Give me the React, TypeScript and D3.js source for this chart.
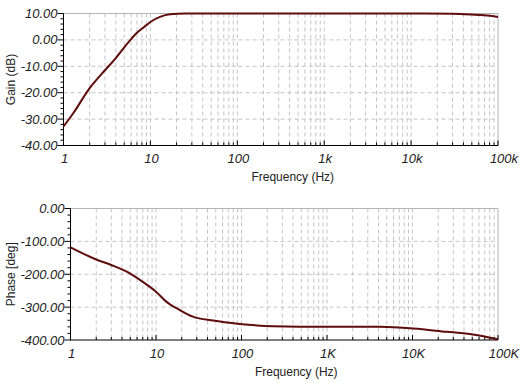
import React from 'react';
import * as d3 from 'd3';

// gain plot
const gainFreq = [1, 1.3, 2, 3, 4, 5, 6, 7, 8, 9, 10, 12.9, 16.8, 25, 50, 100, 1000, 10000, 30000, 50000, 70000, 100000];
const gainDb = [-32.8, -27.7, -18.3, -11.5, -6.9, -2.8, 0.3, 2.7, 4.3, 5.6, 6.8, 8.7, 9.7, 10, 10, 10, 10, 10, 9.9, 9.6, 9.3, 8.7];
const gainTicks = [10, 0, -10, -20, -30, -40];

// phase plot
const phaseFreq = [1, 2, 3, 5, 7, 10, 13.3, 19, 27, 46.5, 95, 234, 1000, 4140, 10200, 25000, 51000, 100000];
const phaseDeg = [-118, -155, -172, -198, -223, -253, -284, -309, -329, -341, -351, -358, -360, -360, -365, -375, -383, -398];
const phaseTicks = [0, -100, -200, -300, -400];

const decades = [1, 10, 100, 1000, 10000, 100000];
const topFreqLabels = ['1', '10', '100', '1k', '10k', '100k'];
const bottomFreqLabels = ['1', '10', '100', '1K', '10K', '100K'];

const font = 'Arial, "Liberation Sans", sans-serif';
const curveColor = '#5e0c0c';
const gridColor = '#c4c4c4';

type PlotProps = {
  left: number; right: number; top: number; bottom: number;
  freq: number[]; vals: number[]; yTicks: number[]; yMinorStep: number;
  xLabels: string[]; yTitle: string; tickBase: number; titleBase: number;
};

const Plot = ({ left, right, top, bottom, freq, vals, yTicks, yMinorStep, xLabels, yTitle, tickBase, titleBase }: PlotProps) => {
  const x = d3.scaleLog().domain([1, 100000]).range([left, right]);
  const yMax = d3.max(yTicks)!;
  const yMin = d3.min(yTicks)!;
  const y = d3.scaleLinear().domain([yMin, yMax]).range([bottom, top]);

  const minorX: number[] = [];
  decades.slice(0, -1).forEach(d => {
    for (let k = 2; k <= 9; k++) minorX.push(d * k);
  });
  const minorY = d3.range(yMin, yMax + 0.001, yMinorStep).filter(v => !yTicks.includes(v));

  const line = d3.line<number>()
    .x((_, i) => x(freq[i]))
    .y(d => y(d))
    .curve(d3.curveMonotoneX);

  return (
    <g>
      {/* grid */}
      {[...decades.slice(1, -1), ...minorX].map((f, i) => (
        <line key={'gx' + i} x1={x(f)} x2={x(f)} y1={top} y2={bottom} stroke={gridColor} strokeDasharray="4,3" />
      ))}
      {yTicks.slice(1, -1).map((v, i) => (
        <line key={'gy' + i} x1={left} x2={right} y1={y(v)} y2={y(v)} stroke={gridColor} strokeDasharray="4,3" />
      ))}
      {/* frame */}
      <line x1={left} x2={right} y1={top} y2={top} stroke="#b4b4b4" />
      <line x1={right} x2={right} y1={top} y2={bottom} stroke="#b4b4b4" />
      <line x1={left} x2={left} y1={top} y2={bottom + 0.5} stroke="#000" />
      <line x1={left} x2={right} y1={bottom} y2={bottom} stroke="#000" />
      {/* y ticks */}
      {yTicks.map((v, i) => (
        <g key={'yt' + i}>
          <line x1={left - 6} x2={left} y1={y(v)} y2={y(v)} stroke="#000" />
          <text x={left - 6} y={y(v) + 4.5} textAnchor="end" fontSize={13} fontStyle="italic" fill="#222" fontFamily={font}>
            {v.toFixed(2)}
          </text>
        </g>
      ))}
      {minorY.map((v, i) => (
        <line key={'ym' + i} x1={left - 3} x2={left} y1={y(v)} y2={y(v)} stroke="#000" />
      ))}
      {/* x ticks */}
      {decades.map((f, i) => (
        <g key={'xt' + i}>
          <line x1={x(f)} x2={x(f)} y1={bottom} y2={bottom - 5} stroke="#000" />
          <text x={x(f) + (i === decades.length - 1 ? 6 : 1)} y={tickBase} textAnchor="middle" fontSize={13} fontStyle="italic" fill="#222" fontFamily={font}>
            {xLabels[i]}
          </text>
        </g>
      ))}
      {minorX.map((f, i) => (
        <line key={'xm' + i} x1={x(f)} x2={x(f)} y1={bottom} y2={bottom - 3} stroke="#000" />
      ))}
      {/* curve */}
      <path d={line(vals) || ''} fill="none" stroke={curveColor} strokeWidth={2} />
      {/* titles */}
      <text x={(left + right) / 2 + 12} y={titleBase} textAnchor="middle" fontSize={12} fill="#222" fontFamily={font}>
        Frequency (Hz)
      </text>
      <text transform={`translate(15,${(top + bottom) / 2}) rotate(-90)`} textAnchor="middle" fontSize={12} fill="#222" fontFamily={font}>
        {yTitle}
      </text>
    </g>
  );
};

const App = () => {
  return (
    <svg width={520} height={390} style={{ position: 'absolute', left: 0, top: 0, background: '#fff' }}>
      <rect width={520} height={390} fill="#fff" />
      <Plot left={63.5} right={498} top={13.5} bottom={145.5} freq={gainFreq} vals={gainDb}
        yTicks={gainTicks} yMinorStep={2} xLabels={topFreqLabels} yTitle="Gain (dB)" tickBase={163} titleBase={181} />
      <Plot left={70.5} right={498} top={208.5} bottom={340} freq={phaseFreq} vals={phaseDeg}
        yTicks={phaseTicks} yMinorStep={20} xLabels={bottomFreqLabels} yTitle="Phase [deg]" tickBase={358} titleBase={376} />
    </svg>
  );
};

export default App;
